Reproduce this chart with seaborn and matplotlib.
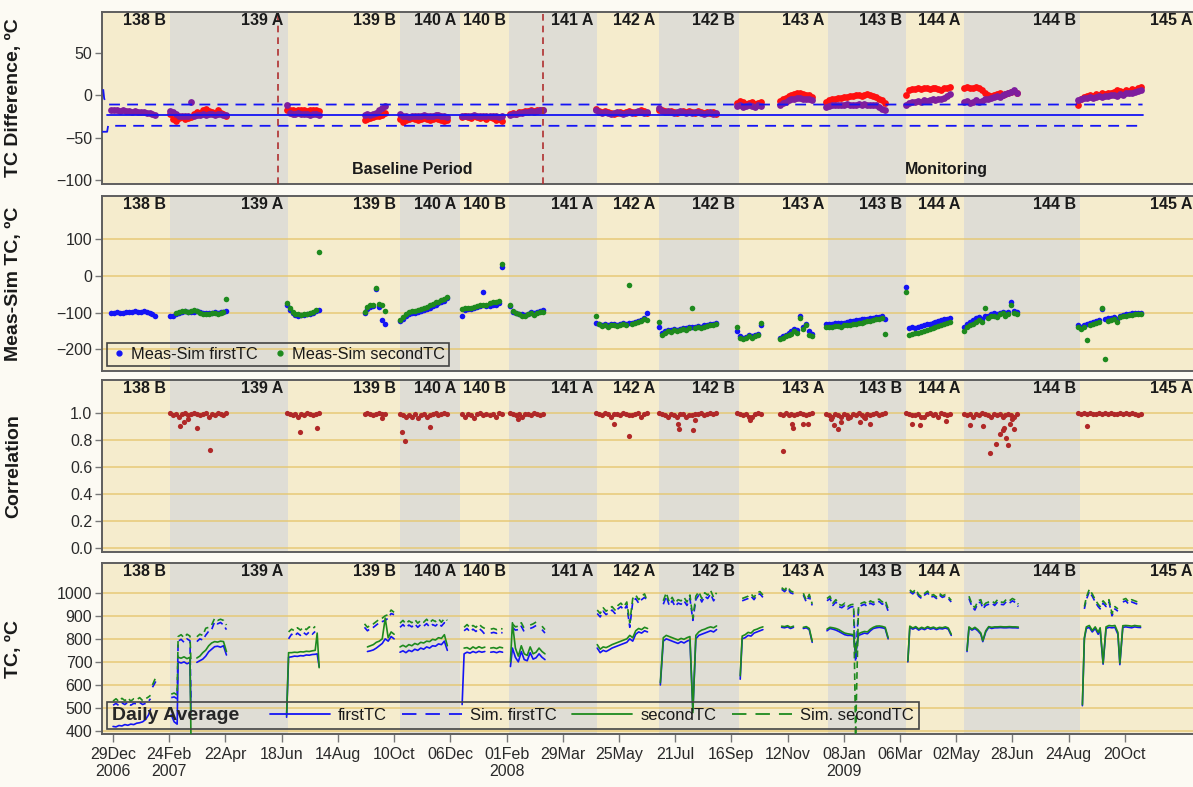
import numpy as np
import pandas as pd
import matplotlib
matplotlib.use("Agg")
import matplotlib.pyplot as plt
import seaborn as sns
from matplotlib.lines import Line2D
from matplotlib.offsetbox import HPacker

# ---------------------------------------------------------------- data
BASE_DATE = "2006-12-29"          # day 0 of the day-number columns
SAMPLE_STEP = 3                   # days between tabulated daily samples

band_edges = ["2006-12-18", "2007-02-25", "2007-06-24", "2007-10-16", "2007-12-16",
              "2008-02-04", "2008-05-03", "2008-07-05", "2008-09-24", "2008-12-23",
              "2009-03-12", "2009-05-10", "2009-09-05", "2010-01-01"]
band_labels = ["138 B", "139 A", "139 B", "140 A", "140 B", "141 A", "142 A",
               "142 B", "143 A", "143 B", "144 A", "144 B", "145 A"]

tick_dates = ["2006-12-29", "2007-02-24", "2007-04-22", "2007-06-18", "2007-08-14",
              "2007-10-10", "2007-12-06", "2008-02-01", "2008-03-29", "2008-05-25",
              "2008-07-21", "2008-09-16", "2008-11-12", "2009-01-08", "2009-03-06",
              "2009-05-02", "2009-06-28", "2009-08-24", "2009-10-20"]
tick_labels = ["29Dec\n2006", "24Feb\n2007", "22Apr", "18Jun", "14Aug", "10Oct", "06Dec",
               "01Feb\n2008", "29Mar", "25May", "21Jul", "16Sep", "12Nov", "08Jan\n2009",
               "06Mar", "02May", "28Jun", "24Aug", "20Oct"]

period_marks = ["2007-06-14", "2008-03-09"]
period_names = ["Baseline Period", "Monitoring"]
period_text_day = [303, 845]

# control limits of the TC difference (day numbers)
mean_day = [-6, 1044]
mean_val = [-23.6, -23.6]
upper_day = [-10, -9, -6, 1044]
upper_val = [7, -4, -11, -11]
lower_day = [-11, -6, -5, 1044]
lower_val = [-43, -43, -36, -36]

# start day of each run of daily samples (panels 1-3)
seg_start = [-2, 58, 176, 255, 291, 354, 382, 403, 490, 554, 633, 676, 723, 804, 863, 979]

diff_red = [
    [],
    [-22, -28, -30, -27, -26, -28, -27, -26, -22, -20, -21, -18, -16, -19, -20, -21, -18, -21, -22, -24],
    [-18, -17, -18, -19, -18, -17, -18, -19, -18, -17, -18, -19],
    [-29, -28, -27, -26, -25, -24, -23, -21],
    [-28, -31, -29, -28, -27, -28, -29, -28, -27, -28, -29, -28, -27, -28, -29, -30, -29],
    [-26, -25, -26, -27, -25, -26, -27, -26, -28],
    [-26, -27, -29, -28, -30],
    [-22, -21, -22, -20, -20, -19, -19, -18, -19, -18, -17, -17],
    [-16, -19, -20, -19, -20, -21, -22, -21, -20, -21, -20, -19, -20, -21, -20, -18, -19, -21],
    [-17, -18, -19, -20, -19, -20, -21, -20, -19, -20, -19, -20, -21, -19, -20, -21, -20, -21, -20, -22],
    [-9, -7, -8, -10, -9, -8, -10, -9, -8],
    [-7, -5, -3, -1, 0, 1, 2, 2, 1, 0, 0, -2],
    [-8, -6, -5, -4, -3, -3, -2, -2, -1, -1, 0, 0, -1, 0, 1, 0, -1, -2, -4, -6, -9],
    [0, 6, 7, 7, 8, 7, 8, 8, 7, 8, 9, 7, 6, 8, 9, 10],
    [9, 10, 8, 9, 10, 8, 6, 2, 0, -1, 0, 1, 2, 0, 1, 3, 4, 5, 3],
    [-12, -4, -2, -1, 0, -1, 1, 0, 2, 1, 3, 2, 4, 6, 5, 4, 6, 5, 7, 6, 8, 10],
]
diff_purple = [
    [-17, -18, -18, -19, -18, -19, -19, -20, -19, -20, -20, -20, -21, -21, -22, -23],
    [-19, -20, -22, -24, -25, -24, -25, -8, -24, -23, -23, -22, -23, -22, -22, -23, -22, -22, -23, -23],
    [-12, -21, -22, -22, -21, -22, -22, -22, -23, -22, -22, -23],
    [-23, -22, -23, -22, -21, -18, -15, -13],
    [-22, -24, -25, -26, -25, -24, -25, -24, -23, -24, -25, -24, -23, -23, -24, -25, -26],
    [-24, -24, -25, -24, -23, -24, -25, -24, -25],
    [-24, -25, -24, -26, -25],
    [-23, -22, -22, -21, -21, -20, -20, -19, -20, -19, -18, -18],
    [-18, -20, -21, -20, -21, -22, -21, -20, -21, -22, -21, -20, -21, -20, -19, -20, -21, -20],
    [-15, -19, -20, -19, -20, -21, -20, -19, -20, -21, -20, -21, -20, -20, -21, -22, -21, -20, -22, -21],
    [-13, -12, -14, -13, -12, -13, -14, -12, -13],
    [-11, -9, -8, -6, -5, -4, -3, -3, -4, -5, -5, -6],
    [-14, -13, -12, -12, -11, -12, -11, -10, -11, -12, -11, -10, -11, -10, -11, -12, -11, -12, -14, -16, -18],
    [-11, -9, -8, -8, -7, -8, -6, -7, -6, -5, -6, -5, -4, -3, -1, 1],
    [-8, -7, -9, -8, -6, -8, -7, -5, -4, -3, -2, -1, -2, 0, 1, 2, 4, 6, 3],
    [-6, -4, -3, -3, -2, -3, -2, -1, -2, -1, -1, 0, 0, -1, 1, 0, 2, 3, 2, 4, 5, 6],
]

ms_first = [
    [-100, -101, -99, -102, -100, -98, -97, -99, -96, -97, -98, -95, -97, -100, -104, -108],
    [-110, -108, -104, -100, -97, -96, -97, -98, -97, -96, -99, -100, -102, -101, -100, -99, -100, -98, -97, -95],
    [-80, -92, -100, -106, -108, -107, -106, -105, -103, -101, -95, -92],
    [-102, -90, -84, -82, -36, -85, -120, -130],
    [-124, -118, -110, -103, -100, -101, -98, -95, -92, -90, -86, -82, -78, -75, -72, -68, -60],
    [-108, -92, -91, -89, -87, -85, -83, -45, -82],
    [-82, -80, -78, -75, 25],
    [-82, -97, -100, -103, -105, -106, -103, -98, -102, -99, -95, -94],
    [-128, -130, -133, -131, -134, -132, -130, -133, -131, -129, -130, -128, -127, -125, -122, -119, -115, -100],
    [-140, -155, -150, -146, -148, -145, -147, -144, -142, -143, -140, -139, -138, -137, -138, -135, -133, -132, -131, -129],
    [-150, -165, -168, -166, -162, -164, -160, -157, -135],
    [-168, -165, -160, -155, -150, -145, -148, -110, -140, -130, -150, -158],
    [-132, -130, -131, -129, -128, -129, -127, -125, -124, -122, -120, -119, -118, -117, -116, -115, -114, -112, -111, -110, -118],
    [-29, -142, -140, -141, -138, -136, -134, -131, -130, -127, -125, -123, -120, -118, -116, -114],
    [-140, -132, -126, -120, -115, -112, -118, -108, -108, -104, -102, -105, -100, -97, -102, -98, -70, -95, -98],
    [-135, -140, -133, -130, -128, -125, -122, -120, -90, -118, -115, -114, -112, -118, -108, -106, -104, -103, -102, -101, -102, -100],
]
ms_second = [
    [],
    [None, None, -100, -97, -95, -96, -98, -95, -94, -96, -100, -103, -105, -104, -101, -100, -103, -100, -98, -63],
    [-74, -88, -98, -104, -105, -106, -104, -103, -101, -99, -92, 65],
    [-98, -85, -80, -78, -32, -76, -80, -95],
    [-120, -112, -105, -98, -95, -96, -92, -90, -88, -85, -80, -76, -72, -70, -66, -62, -56],
    [-90, -88, -88, -86, -84, -82, -80, -80, -78],
    [-75, -72, -70, -68, 33],
    [-78, -95, -102, -105, -108, -110, -105, -100, -106, -102, -98, -97],
    [-110, -132, -136, -134, -138, -135, -133, -137, -135, -132, -134, -26, -130, -128, -126, -122, -118, -120],
    [-125, -160, -155, -150, -152, -148, -150, -147, -145, -146, -143, -88, -142, -140, -141, -138, -136, -135, -134, -132],
    [-140, -168, -172, -170, -165, -168, -163, -160, -128],
    [-172, -168, -165, -160, -158, -150, -155, -115, -145, -135, -160, -165],
    [-140, -138, -139, -137, -136, -138, -135, -134, -133, -132, -130, -128, -127, -125, -124, -122, -120, -118, -116, -115, -158],
    [-43, -160, -158, -155, -156, -152, -150, -148, -145, -142, -140, -137, -134, -130, -128, -125],
    [-150, -140, -135, -130, -125, -120, -125, -88, -115, -110, -108, -112, -105, -102, -108, -104, -79, -100, -104],
    [-140, -145, -138, -174, -135, -130, -128, -125, -88, -226, -122, -120, -118, -125, -112, -110, -108, -107, -106, -105, -105, -104],
]

corr_band = [
    [],
    [1.0, 0.98, 0.99, 0.97, 0.99, 1.0, 0.98, 0.99, 1.0, 0.99, 0.98, 0.99, 1.0, 0.97, 0.99, 0.98, 1.0, 0.99, 0.98, 1.0],
    [1.0, 0.99, 0.98, 0.99, 0.97, 0.99, 0.98, 1.0, 0.99, 0.98, 0.99, 1.0],
    [0.99, 1.0, 0.99, 0.98, 0.99, 1.0, 0.99, 0.99],
    [0.99, 0.98, 0.97, 0.98, 0.97, 0.99, 0.96, 0.98, 0.99, 0.97, 0.98, 0.99, 1.0, 0.98, 0.99, 1.0, 0.99],
    [0.99, 0.97, 0.99, 0.98, 0.96, 0.99, 1.0, 0.98, 0.99],
    [0.98, 0.99, 0.97, 1.0, 0.99],
    [1.0, 0.99, 0.98, 0.99, 0.97, 0.99, 0.99, 0.98, 1.0, 0.99, 0.98, 0.99],
    [1.0, 0.99, 0.98, 1.0, 0.99, 0.97, 0.99, 0.99, 0.98, 1.0, 0.99, 0.98, 0.98, 0.99, 1.0, 0.97, 0.99, 1.0],
    [1.0, 0.99, 0.98, 0.97, 0.99, 0.98, 0.97, 0.99, 0.99, 0.97, 0.98, 0.98, 0.99, 0.99, 1.0, 0.98, 0.99, 1.0, 0.99, 1.0],
    [1.0, 0.99, 0.98, 0.99, 0.97, 0.97, 0.99, 1.0, 0.99],
    [0.99, 0.98, 1.0, 0.98, 0.99, 0.98, 0.99, 1.0, 0.99, 0.98, 0.99, 1.0],
    [0.99, 0.98, 0.97, 0.99, 0.98, 0.97, 0.99, 0.98, 0.97, 0.99, 0.98, 1.0, 0.98, 0.97, 0.99, 0.98, 0.99, 1.0, 0.98, 0.99, 1.0],
    [1.0, 0.99, 0.98, 0.98, 0.99, 0.97, 0.97, 0.99, 1.0, 0.98, 0.99, 0.97, 1.0, 0.99, 0.98, 0.99],
    [0.99, 0.98, 0.99, 0.97, 0.99, 0.98, 1.0, 0.99, 0.98, 0.97, 0.99, 0.98, 0.99, 0.97, 0.98, 0.99, 0.98, 0.97, 0.99],
    [1.0, 0.99, 1.0, 0.99, 1.0, 0.99, 0.99, 1.0, 0.99, 1.0, 0.99, 1.0, 0.99, 0.99, 1.0, 0.99, 1.0, 0.99, 1.0, 0.99, 0.98, 0.99],
]
corr_out_day = [68, 72, 76, 85, 98, 190, 207, 273, 293, 296, 321, 411, 508, 523, 573, 574,
                588, 590, 646, 679, 689, 690, 700, 705, 728, 731, 735, 738, 745, 757, 763, 768,
                810, 818, 845, 869, 882, 889, 895, 899, 902, 904, 906, 908, 910, 912, 914, 988]
corr_out_val = [0.90, 0.93, 0.95, 0.89, 0.72, 0.856, 0.89, 0.96, 0.855, 0.79, 0.896, 0.95,
                0.92, 0.83, 0.92, 0.88, 0.87, 0.945, 0.945, 0.715, 0.92, 0.89, 0.92, 0.92,
                0.95, 0.91, 0.88, 0.93, 0.96, 0.93, 0.96, 0.92, 0.92, 0.91, 0.94, 0.91,
                0.90, 0.70, 0.765, 0.84, 0.87, 0.89, 0.81, 0.757, 0.92, 0.95, 0.88, 0.90]

# daily average thermocouple temperatures (day numbers, runs)
tc_days = [
    [0, 3, 6, 9, 12, 15, 18, 21, 24, 27, 30, 33, 36, 38],
    [40, 42, 44],
    [59, 62, 65, 66, 69, 72, 75, 78, 79],
    [85, 88, 91, 94, 97, 100, 103, 106, 109, 112, 115],
    [176, 178, 181, 184, 187, 190, 193, 196, 199, 202, 205, 207, 209],
    [255, 258, 261, 264, 267, 270, 273, 276, 279, 282, 285],
    [291, 294, 297, 300, 303, 306, 309, 312, 315, 318, 321, 324, 327, 330, 333, 336, 339],
    [354, 356, 359, 362, 365, 368, 371, 374, 377],
    [383, 386, 389, 392, 395],
    [403, 405, 408, 411, 414, 417, 420, 423, 426, 429, 432, 435, 438],
    [491, 494, 497, 500, 503, 506, 509, 512, 515, 518, 521, 524, 527, 530, 533, 536, 539, 542],
    [555, 558, 561, 564, 567, 570, 573, 576, 579, 582, 585, 588, 591, 594, 597, 600, 603, 606, 609, 612],
    [636, 638, 641, 644, 647, 650, 653, 656, 659],
    [678, 681, 684, 687, 690],
    [700, 703, 706, 709],
    [724, 727, 730, 733, 736, 739, 742, 745, 748, 751, 753, 756, 759, 762, 765, 768, 771, 774, 777, 780, 783, 786],
    [806, 808, 811, 814, 817, 820, 823, 826, 829, 832, 835, 838, 841, 844, 847, 850],
    [866, 868, 871, 874, 877, 880, 882, 885, 888, 891, 894, 897, 900, 903, 906, 909, 912, 915, 918],
    [983, 985, 987, 990, 993, 996, 999, 1001, 1004, 1007, 1010, 1013, 1016, 1019, 1021, 1024, 1027, 1030, 1033, 1036, 1039, 1042],
]
tc_first = [
    [420, 418, 424, 422, 428, 425, 430, 428, 434, 436, 440, 450, 470, 495],
    [None, None, None],
    [470, 440, 430, 700, 695, 700, 692, 698, 480],
    [698, 705, 712, 725, 744, 755, 766, 768, 764, 770, 730],
    [460, 720, 722, 725, 724, 727, 726, 730, 729, 732, 733, 735, 680],
    [None, 745, 748, 752, 760, 770, 780, 800, 790, 810, 800],
    [742, 748, 740, 750, 745, 755, 750, 760, 755, 765, 760, 770, 768, 778, 775, 790, 750],
    [515, 735, 742, 738, 745, 740, 746, 742, 745],
    [742, 744, 740, 745, 742],
    [680, 760, 720, 700, 745, 710, 705, 740, 712, 718, 735, 720, 710],
    [760, 740, 750, 745, 752, 760, 765, 770, 775, 780, 785, 800, 790, 820, 830, 825, 835, 830],
    [600, 790, 800, 795, 790, 785, 780, 788, 782, 790, 795, 490, 800, 815, 820, 825, 830, 835, 830, 840],
    [625, 800, 805, 815, 812, 825, 830, 835, 840],
    [850, 848, 852, 845, 850],
    [845, 848, 840, 785],
    [835, 845, 842, 838, 832, 825, 818, 815, 815, 812, 730, 815, 820, 825, 822, 835, 845, 848, 850, 848, 845, 800],
    [700, 850, 842, 848, 838, 845, 840, 848, 842, 846, 840, 845, 843, 847, 842, 815],
    [745, 848, 838, 845, 835, 820, 788, 830, 850, 845, 848, 848, 849, 848, 848, 849, 848, 848, 847],
    [510, 800, 845, 850, 830, 845, 820, 840, 690, 845, 850, 848, 850, 820, 688, 850, 852, 850, 848, 852, 850, 849],
]
tc_sim_first = [
    [512, 520, 510, 522, 515, 525, 512, 520, 518, 524, 515, 520, 530, 540],
    [590, 605, 620],
    [545, 548, 540, 790, 798, 785, 800, 792, 520],
    [788, 800, 795, 816, 833, 840, 874, 865, 871, 860, 840],
    [None, 800, 820, 812, 825, 815, 828, 818, 830, 820, 832, None, None],
    [850, 835, 845, 850, 860, 870, 875, 880, 890, 910, 905],
    [850, 862, 848, 860, 852, 865, 850, 862, 855, 866, 852, 862, 856, 868, 855, 870, 860],
    [None, 835, 845, 830, 842, 832, 846, 835, 820],
    [825, 828, 824, 828, 826],
    [None, 850, 838, 840, 855, 830, None, 845, 850, 858, None, 840, 825],
    [910, 895, 920, 905, 915, 925, 910, 930, 940, 925, 945, 850, 960, 975, 955, 970, 980, 965],
    [None, 950, 985, 945, 965, 940, 955, 950, 965, 945, 975, 880, 970, 990, 960, 985, 975, 995, 965, 985],
    [None, 965, 970, 975, 985, 970, 990, 995, 980],
    [1015, 1005, 1020, 1000, 995],
    [990, 960, 985, 945],
    [965, 975, 945, 960, 940, 935, 945, 930, 938, 940, 700, 935, 945, 950, 940, 955, 948, 960, 962, 950, 958, 920],
    [None, 1005, 995, 1008, 985, 975, 990, 1000, 980, 985, 975, 990, 980, 985, 975, 960],
    [None, 975, 940, 925, 955, 960, 930, 945, 950, 955, 945, 960, 950, 948, 962, 955, 965, 958, 940],
    [None, 930, 970, 1005, 985, 960, 940, 930, 955, 940, 960, 900, 930, 920, None, 960, 965, 950, 960, 955, 950, 945],
]
tc_second = [
    [None] * 14,
    [None, None, None],
    [None, None, None, 720, 716, 722, 714, 720, 380],
    [717, 725, 740, 751, 770, 782, 788, 786, 790, 788, 745],
    [470, 740, 740, 742, 741, 744, 743, 746, 745, 748, 750, 825, 675],
    [None, 765, 770, 775, 785, 790, 800, 890, 805, 830, 820],
    [765, 772, 765, 775, 770, 780, 775, 785, 782, 790, 788, 798, 795, 805, 802, 818, 770],
    [None, 760, 762, 755, 765, 758, 766, 760, 764],
    [760, 762, 758, 764, 761],
    [700, 870, 760, 725, 770, 735, 728, 765, 735, 742, 760, 745, 735],
    [775, 755, 765, 762, 768, 775, 780, 785, 790, 795, 800, 815, 805, 835, 845, 840, 850, 845],
    [610, 805, 815, 810, 805, 800, 795, 802, 798, 805, 810, 480, 815, 830, 838, 842, 848, 852, 848, 856],
    [640, 812, 818, 828, 825, 838, 842, 848, 852],
    [855, 853, 857, 850, 855],
    [850, 853, 845, 790],
    [842, 850, 848, 845, 840, 832, 825, 822, 820, 818, 740, 822, 828, 832, 830, 842, 850, 855, 856, 854, 850, 805],
    [705, 855, 847, 853, 843, 850, 845, 853, 847, 851, 845, 850, 848, 852, 847, 820],
    [750, 852, 842, 850, 840, 825, 792, 835, 853, 850, 852, 852, 853, 852, 852, 853, 852, 852, 851],
    [515, 805, 852, 858, 836, 852, 828, 848, 695, 852, 858, 856, 858, 828, 695, 857, 858, 857, 855, 858, 856, 855],
]
tc_sim_second = [
    [530, 540, 528, 542, 532, 544, 530, 540, 536, 545, 532, 540, 548, 555],
    [600, 620, 640],
    [560, 565, 556, 810, 818, 805, 820, 812, 700],
    [809, 820, 815, 846, 850, 860, 889, 880, 885, 880, 860],
    [None, 830, 842, 835, 848, 838, 850, 840, 852, 842, 854, None, None],
    [865, 850, 860, 865, 875, 885, 890, 900, 905, 925, 915],
    [868, 880, 865, 878, 870, 884, 868, 880, 872, 885, 870, 882, 875, 887, 872, 888, 880],
    [None, 850, 862, 848, 858, 850, 864, 852, 845],
    [842, 845, 840, 845, 843],
    [None, 865, 852, 855, 870, 845, None, 860, 865, 873, None, 855, 840],
    [925, 910, 935, 920, 930, 940, 925, 945, 955, 940, 960, 870, 975, 990, 970, 985, 995, 960],
    [None, 965, 1000, 960, 980, 955, 970, 965, 980, 960, 990, 890, 985, 1005, 975, 1000, 990, 1010, 980, 1000],
    [None, 975, 980, 985, 995, 980, 1000, 1005, 990],
    [1022, 1012, 1027, 1008, 1002],
    [998, 968, 993, 952],
    [975, 985, 955, 970, 950, 945, 955, 940, 948, 950, 380, 945, 955, 960, 950, 965, 958, 970, 972, 960, 968, 930],
    [None, 1012, 1002, 1015, 992, 982, 997, 1007, 987, 992, 982, 997, 987, 992, 982, 967],
    [None, 985, 950, 935, 965, 970, 940, 955, 960, 965, 955, 970, 960, 958, 972, 965, 975, 968, 950],
    [None, 940, 980, 1015, 995, 970, 950, 940, 965, 950, 970, 910, 940, 930, None, 970, 975, 960, 970, 965, 960, 955],
]

# ---------------------------------------------------------------- helpers
BASE = pd.Timestamp(BASE_DATE)


def to_dates(days):
    return BASE + pd.to_timedelta(np.asarray(days, dtype=float), unit="D")


def sampled_frame(series):
    days, vals = [], []
    for start, run in zip(seg_start, series):
        for i, v in enumerate(run):
            if v is None:
                continue
            days.append(start + SAMPLE_STEP * i)
            vals.append(v)
    return pd.DataFrame({"date": to_dates(days), "value": vals})


def line_frame(day_runs, val_runs):
    rows = []
    unit = 0
    for drun, vrun in zip(day_runs, val_runs):
        unit += 1
        for d, v in zip(drun, vrun):
            if v is None:
                unit += 1
                continue
            rows.append((d, v, unit))
    df = pd.DataFrame(rows, columns=["day", "value", "unit"])
    df["date"] = to_dates(df["day"])
    return df


# ---------------------------------------------------------------- style
sns.set_theme(style="white")
plt.rcParams["font.family"] = ["Liberation Sans", "DejaVu Sans"]

FIG_BG = "#FCFAF3"
YEL = "#F5ECCD"
GRY = "#DFDDD5"
GRID = "#E6C66E"
FRAME = "#5E5E5E"
BLUE = "#1414F5"
GREEN = "#1E8A1E"
RED = "#FF1010"
PURPLE = "#7E1E9E"
CORR = "#B02828"
TXT = "#1A1A1A"

fig = plt.figure(figsize=(11.93, 7.87), dpi=100, facecolor=FIG_BG)
L, W = 0.0855, 0.918
ax1 = fig.add_axes([L, 0.7662, W, 0.2186])
ax2 = fig.add_axes([L, 0.5286, W, 0.2224])
ax3 = fig.add_axes([L, 0.2986, W, 0.2186])
ax4 = fig.add_axes([L, 0.0673, W, 0.2173])
axes = [ax1, ax2, ax3, ax4]

xlo = BASE - pd.Timedelta(days=11.2)
xhi = BASE + pd.Timedelta(days=1099.4)
edges = pd.to_datetime(band_edges)

for k, ax in enumerate(axes):
    ax.set_facecolor(YEL)
    for i, lab in enumerate(band_labels):
        ax.axvspan(edges[i], edges[i + 1], color=(YEL if i % 2 == 0 else GRY), lw=0, zorder=0)
        ax.text(edges[i + 1] - pd.Timedelta(days=4), 0.953, lab, transform=ax.get_xaxis_transform(),
                ha="right", va="center", fontsize=11.5, fontweight="bold", color=TXT, zorder=5)
    for sp in ax.spines.values():
        sp.set_color(FRAME)
        sp.set_linewidth(1.4)
    ax.tick_params(axis="y", direction="out", length=5, width=1, color="#777777",
                   labelsize=11.5, labelcolor="#2A2A2A", left=True, pad=2)
    if k > 0:
        ax.grid(axis="y", color=GRID, lw=1.1, alpha=0.9)
    ax.set_axisbelow("line")

# ---------------- panel 1: TC difference
red_df = sampled_frame(diff_red)
pur_df = sampled_frame(diff_purple)
sns.scatterplot(data=red_df, x="date", y="value", color=RED, s=24, linewidth=0, ax=ax1, legend=False, zorder=3)
sns.scatterplot(data=pur_df, x="date", y="value", color=PURPLE, s=24, linewidth=0, ax=ax1, legend=False, zorder=3)
sns.lineplot(x=to_dates(mean_day), y=mean_val, color=BLUE, lw=1.3, ax=ax1, zorder=4)
sns.lineplot(x=to_dates(upper_day), y=upper_val, color=BLUE, lw=1.3, linestyle=(0, (6, 4)), ax=ax1, zorder=4, sort=False)
sns.lineplot(x=to_dates(lower_day), y=lower_val, color=BLUE, lw=1.3, linestyle=(0, (6, 4)), ax=ax1, zorder=4, sort=False)
for d in pd.to_datetime(period_marks):
    ax1.axvline(d, color="#B03030", lw=1.2, linestyle=(0, (4, 3)), zorder=4)
for name, d in zip(period_names, period_text_day):
    ax1.text(to_dates([d])[0], 0.087, name, transform=ax1.get_xaxis_transform(), ha="center",
             va="center", fontsize=11.5, fontweight="bold", color=TXT, zorder=5)
ax1.set_ylim(-104.4, 97.8)
ax1.set_yticks([-100, -50, 0, 50])
ax1.set_ylabel("TC Difference, ºC", fontsize=14, fontweight="bold", color=TXT)

# ---------------- panel 2: measured - simulated
f_df = sampled_frame(ms_first)
s_df = sampled_frame(ms_second)
sns.scatterplot(data=f_df, x="date", y="value", color=BLUE, s=16, linewidth=0, ax=ax2, legend=False, zorder=3)
sns.scatterplot(data=s_df, x="date", y="value", color=GREEN, s=16, linewidth=0, ax=ax2, legend=False, zorder=3)
ax2.set_ylim(-259, 218)
ax2.set_yticks([-200, -100, 0, 100])
ax2.set_ylabel("Meas-Sim TC, ºC", fontsize=14, fontweight="bold", color=TXT)
h2 = [Line2D([], [], ls="", marker="o", markersize=3.5, color=BLUE),
      Line2D([], [], ls="", marker="o", markersize=3.5, color=GREEN)]
leg2 = ax2.legend(h2, ["Meas-Sim firstTC", "Meas-Sim secondTC"], loc="lower left", ncol=2,
                  fontsize=11.8, frameon=True, fancybox=False, borderaxespad=0.3,
                  handletextpad=0.2, columnspacing=0.9, handlelength=1.0, borderpad=0.25)
leg2.get_frame().set_alpha(None)
leg2.get_frame().set_facecolor((1, 1, 1, 0.0))
leg2.get_frame().set_edgecolor("#444444")
leg2.get_frame().set_linewidth(1.2)
for t in leg2.get_texts():
    t.set_color(TXT)

# ---------------- panel 3: correlation
c_df = sampled_frame(corr_band)
c_out = pd.DataFrame({"date": to_dates(corr_out_day), "value": corr_out_val})
c_all = pd.concat([c_df, c_out], ignore_index=True)
sns.scatterplot(data=c_all, x="date", y="value", color=CORR, s=14, linewidth=0, ax=ax3, legend=False, zorder=3)
ax3.set_ylim(-0.033, 1.243)
ax3.set_yticks([0.0, 0.2, 0.4, 0.6, 0.8, 1.0])
ax3.set_yticklabels(["0.0", "0.2", "0.4", "0.6", "0.8", "1.0"])
ax3.set_ylabel("Correlation", fontsize=14, fontweight="bold", color=TXT)

# ---------------- panel 4: daily average TC
SIM_DASH = (0, (4, 2.5))
specs = [(tc_first, BLUE, "-"), (tc_sim_first, BLUE, SIM_DASH),
         (tc_second, GREEN, "-"), (tc_sim_second, GREEN, SIM_DASH)]
for vals, col, ls in specs:
    df = line_frame(tc_days, vals)
    sns.lineplot(data=df, x="date", y="value", units="unit", estimator=None, sort=False,
                 color=col, lw=1.2, linestyle=ls, ax=ax4, legend=False, zorder=3)
ax4.set_ylim(387, 1129)
ax4.set_yticks([400, 500, 600, 700, 800, 900, 1000])
ax4.set_ylabel("TC, ºC", fontsize=14, fontweight="bold", color=TXT)

h4 = [Line2D([], [], color=BLUE, lw=1.3),
      Line2D([], [], color=BLUE, lw=1.3, dashes=(8, 5)),
      Line2D([], [], color=GREEN, lw=1.3),
      Line2D([], [], color=GREEN, lw=1.3, dashes=(8, 5))]
leg4 = ax4.legend(h4, ["firstTC", "Sim. firstTC", "secondTC", "Sim. secondTC"],
                  title="Daily Average", loc="lower left", ncol=4, fontsize=12,
                  frameon=True, fancybox=False, borderaxespad=0.3, handlelength=3.6,
                  handletextpad=0.5, columnspacing=0.9, borderpad=0.3)
leg4.get_title().set_fontweight("bold")
leg4.get_title().set_fontsize(14)
leg4.get_frame().set_alpha(None)
leg4.get_frame().set_facecolor((1, 1, 1, 0.0))
leg4.get_frame().set_edgecolor("#444444")
leg4.get_frame().set_linewidth(1.2)
for t in leg4.get_texts():
    t.set_color(TXT)
try:
    old = leg4._legend_box
    title_box, handle_box = old.get_children()
    newbox = HPacker(pad=old.pad, sep=22, align="center", children=[title_box, handle_box])
    newbox.set_figure(fig)
    newbox.axes = ax4
    newbox.set_offset(leg4._findoffset)
    leg4._legend_box = newbox
except Exception:
    pass

# ---------------- shared x axis
for k, ax in enumerate(axes):
    ax.set_xlim(xlo, xhi)
    ax.set_xlabel("")
    ax.yaxis.set_label_coords(-0.073, 0.5)
    if k < 3:
        ax.set_xticks([])
ax4.set_xticks(pd.to_datetime(tick_dates))
ax4.set_xticklabels(tick_labels)
ax4.tick_params(axis="x", direction="out", length=6, width=1, color="#777777",
                labelsize=11.5, labelcolor="#2A2A2A", bottom=True, pad=3)
for t in ax4.get_xticklabels():
    t.set_ha("center")
    t.set_multialignment("center")

fig.savefig("out.png", dpi=100, facecolor=FIG_BG)
